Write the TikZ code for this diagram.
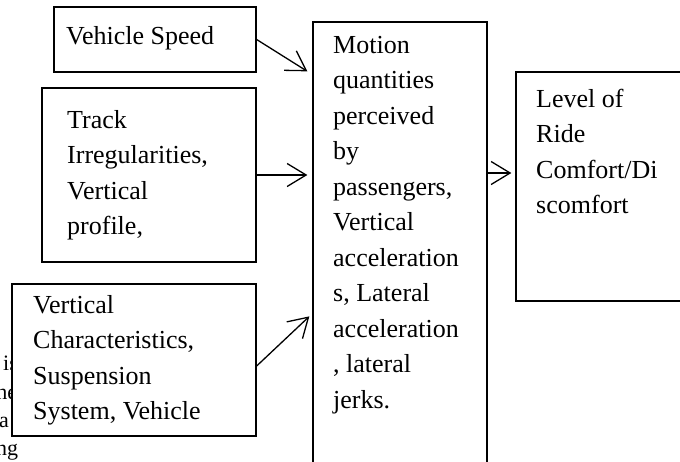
\documentclass[tikz,border=0pt]{standalone}
\usepackage{fontspec}
\setmainfont{Liberation Serif}
\usetikzlibrary{arrows.meta,calc}
\begin{document}
\begin{tikzpicture}[x=1pt,y=-1pt,
  box/.style={draw=black, fill=white, line width=1.3pt, rectangle, inner sep=0pt},
  txt/.style={anchor=base west, align=left, inner sep=0pt, font=\fontsize{26}{35.5}\selectfont},
  bgtxt/.style={anchor=base west, inner sep=0pt, font=\fontsize{22}{28}\selectfont},
  arr/.style={line width=1.3pt, -{Straight Barb[length=19pt,width=23pt,line width=1.3pt]}}]
\useasboundingbox (0,0) rectangle (680,461);
\clip (0,0) rectangle (680,461);
% partly hidden text behind the lower box
\node[bgtxt] (bg1) at (3,370) {is};
\node[bgtxt] (bg2) at (-10,399) {the};
\node[bgtxt] (bg3) at (-1,427) {a};
\node[bgtxt] (bg4) at (-4,455) {ng};
% boxes
\node[box, minimum width=202pt, minimum height=65pt] (vs) at (155,39.5) {};
\node[box, minimum width=214pt, minimum height=174pt] (tr) at (149,175) {};
\node[box, minimum width=244pt, minimum height=152pt] (vc) at (134,360) {};
\node[box, minimum width=174pt, minimum height=460pt] (mq) at (400,252) {};
\node[box, minimum width=184pt, minimum height=229pt] (lv) at (608,186.5) {};
% texts (base anchor = baseline of the last line)
\node[txt] (vst) at (66,44) {Vehicle Speed};
\node[txt] (trt) at (67,234.5) {Track\\Irregularities,\\Vertical\\profile,};
\node[txt] (vct) at (33,419.5) {Vertical\\Characteristics,\\Suspension\\System, Vehicle};
\node[txt] (mqt) at (333,408) {Motion\\quantities\\perceived\\by\\passengers,\\Vertical\\acceleration\\s, Lateral\\acceleration\\, lateral\\jerks.};
\node[txt] (lvt) at (536,213.5) {Level of\\Ride\\Comfort/Di\\scomfort};
% connectors
\coordinate (e1) at ($(mq.north west)+(-5,50)$);
\draw[arr] (vs.east) -- (e1);
\coordinate (e2) at ($(mq.west |- tr.east)+(-5,0)$);
\draw[arr] (tr.east) -- (e2);
\coordinate (s3) at ($(vc.east)+(0,6)$);
\coordinate (e3) at ($(mq.north west)+(-3,295)$);
\draw[arr] (s3) -- (e3);
\coordinate (s4) at (mq.east |- 0,173);
\coordinate (e4) at ($(lv.west |- s4)+(-4,0)$);
\draw[arr] (s4) -- (e4);
\end{tikzpicture}
\end{document}
